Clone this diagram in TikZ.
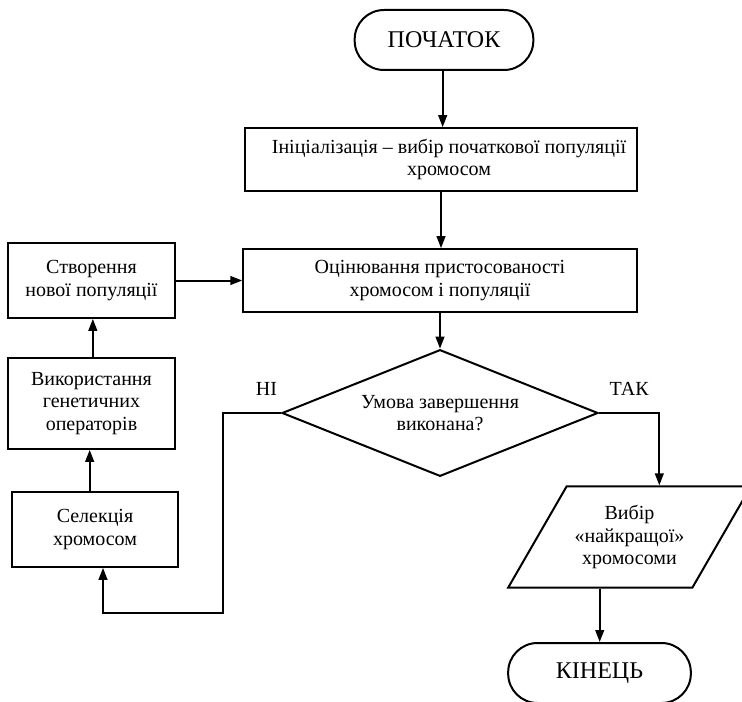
\documentclass[tikz,border=0pt]{standalone}
\usepackage{fontspec}
\setmainfont{Liberation Serif}
\usetikzlibrary{shapes.geometric,shapes.misc}
\usetikzlibrary{arrows.meta}
\newcommand{\txt}{\fontsize{15}{17}\selectfont}
\newcommand{\ttxt}{\fontsize{18}{21}\selectfont}

\begin{document}
\begin{tikzpicture}[x=0.75pt, y=0.75pt, line width=1.5pt,
    box/.style={draw, rectangle, align=center, font=\txt, inner sep=2pt},
    term/.style={draw, rectangle, rounded corners=22pt, font=\ttxt, minimum width=134pt, minimum height=45pt},
    cond/.style={draw, diamond, aspect=2.5, inner sep=0pt, align=center, font=\txt, minimum width=237pt, minimum height=95pt},
    io/.style={draw, trapezium, trapezium left angle=60, trapezium right angle=120, trapezium stretches body,
        align=center, font=\txt, inner xsep=0pt, inner ysep=14pt, minimum width=182pt},
    arr/.style={-{Triangle[length=9pt,width=6.5pt]}}]

    \useasboundingbox (0,0) rectangle (742,701);

    % main column
    \node[term] (start) at (444,661) {ПОЧАТОК};
    \node[box, minimum width=294pt, minimum height=47pt] (init) at (441,541.5)
        {\hspace*{12pt}Ініціалізація – вибір початкової популяції\\\hspace*{12pt}хромосом};
    \node[box, minimum width=295pt, minimum height=47pt] (eval) at (440,420.5)
        {Оцінювання пристосованості\\хромосом і популяції};
    \node[cond] (dia) at (440,288) {Умова завершення\\виконана?};
    \node[io] (pick) at (629.5,164) {Вибір\\«найкращої»\\хромосоми};
    \node[term, minimum width=137pt] (end) at (599.5,28) {КІНЕЦЬ};

    % left column
    \node[box, minimum width=125pt, minimum height=56pt] (create) at (91.5,420.5) {Створення\\нової популяції};
    \node[box, minimum width=125pt, minimum height=68pt] (use) at (91.5,297.5) {Використання\\генетичних\\операторів};
    \node[box, minimum width=125pt, minimum height=56pt] (sel) at (95,171.5) {Селекція\\хромосом};

    \draw[arr] ([xshift=-1pt]start.south) -- ([xshift=-1pt]start.south |- init.north);
    \draw[arr] (init.south) -- (init.south |- eval.north);
    \draw[arr] (eval) -- (dia);
    \draw[arr] (create) -- (eval);
    \draw[arr] ([xshift=-4pt]sel.north) -- ([xshift=-4pt]sel.north |- use.south);
    \draw[arr] ([xshift=1pt]use.north) -- ([xshift=1pt]use.north |- create.south);

    % yes / no branches
    \draw[arr] (dia.east) -- node[above=9pt, font=\txt] {ТАК} (pick.top side |- dia.east) -- (pick.top side);
    \draw[arr] (pick.bottom side) -- (pick.bottom side |- end.north);
    \coordinate (nocorner) at (223,288);
    \draw[arr] (dia.west) -- node[pos=0.25, above=9pt, font=\txt] {НІ} (nocorner) -- (223,88)
        -| ([xshift=6pt]sel.south);

\end{tikzpicture}
\end{document}
